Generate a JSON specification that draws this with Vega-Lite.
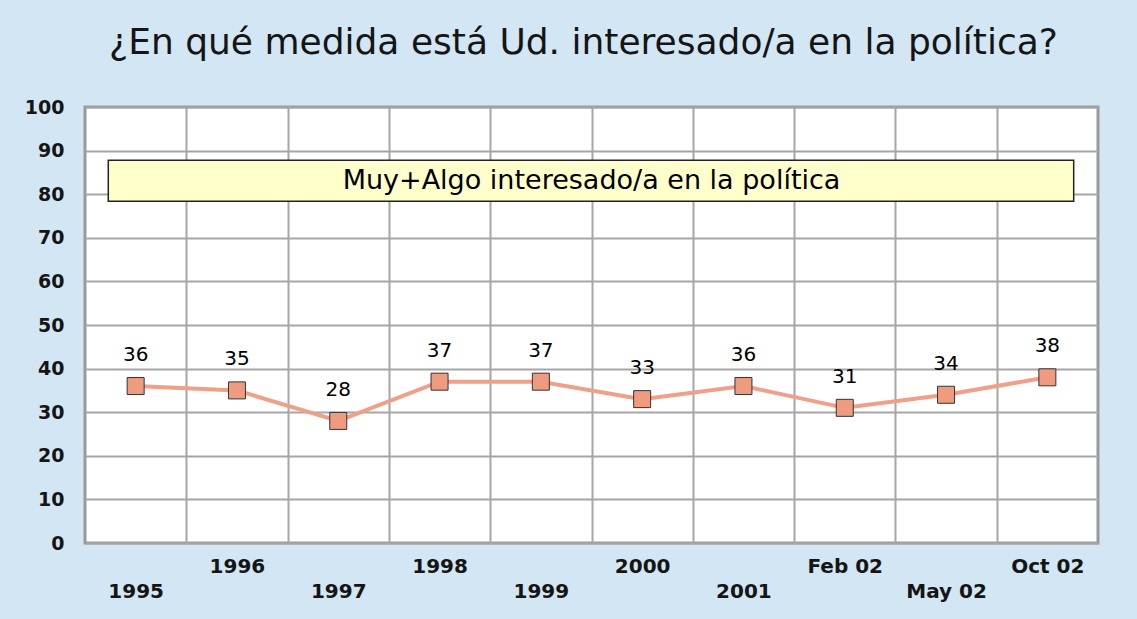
{
  "$schema": "https://vega.github.io/schema/vega-lite/v6.json",
  "width": 1013,
  "height": 436,
  "autosize": {"type": "none"},
  "padding": {"left": 85, "top": 107, "right": 39, "bottom": 76},
  "background": "#d2e6f4",
  "title": {
    "text": "¿En qué medida está Ud. interesado/a en la política?",
    "font": "DejaVu Sans",
    "fontSize": 36,
    "fontWeight": "normal",
    "color": "#151515",
    "anchor": "middle",
    "baseline": "alphabetic",
    "dx": -8,
    "offset": 8
  },
  "config": {
    "view": {"fill": "white", "stroke": "#999999", "strokeWidth": 3},
    "axis": {"labelFont": "DejaVu Sans", "labelColor": "#151515"}
  },
  "datasets": {
    "series": [
      {"i": 0, "periodo": "1995", "valor": 36},
      {"i": 1, "periodo": "1996", "valor": 35},
      {"i": 2, "periodo": "1997", "valor": 28},
      {"i": 3, "periodo": "1998", "valor": 37},
      {"i": 4, "periodo": "1999", "valor": 37},
      {"i": 5, "periodo": "2000", "valor": 33},
      {"i": 6, "periodo": "2001", "valor": 36},
      {"i": 7, "periodo": "Feb 02", "valor": 31},
      {"i": 8, "periodo": "May 02", "valor": 34},
      {"i": 9, "periodo": "Oct 02", "valor": 38}
    ],
    "caja": [
      {"x1": -0.27, "x2": 9.26, "y1": 78.4, "y2": 87.8, "xc": 4.5, "yc": 83.1, "texto": "Muy+Algo interesado/a en la política"}
    ]
  },
  "resolve": {"axis": {"x": "independent", "y": "independent"}},
  "layer": [
    {
      "data": {"name": "series"},
      "mark": {"type": "line", "color": "#EFA088", "strokeWidth": 4},
      "encoding": {
        "x": {
          "field": "i", "type": "quantitative",
          "scale": {"domain": [-0.5, 9.5], "nice": false, "zero": false},
          "axis": {
            "orient": "bottom",
            "values": [0.5, 1.5, 2.5, 3.5, 4.5, 5.5, 6.5, 7.5, 8.5],
            "grid": true, "gridColor": "#a6a6a6", "gridWidth": 2,
            "labels": false, "ticks": false, "domain": false, "title": null
          }
        },
        "y": {
          "field": "valor", "type": "quantitative",
          "scale": {"domain": [0, 100], "nice": false},
          "axis": {
            "orient": "left",
            "values": [0, 10, 20, 30, 40, 50, 60, 70, 80, 90, 100],
            "grid": true, "gridColor": "#a6a6a6", "gridWidth": 2,
            "ticks": false, "domain": false, "title": null,
            "labelFontSize": 19, "labelFontWeight": "bold", "labelPadding": 21,
            "labelFlush": false, "labelOverlap": false
          }
        }
      }
    },
    {
      "data": {"name": "caja"},
      "mark": {"type": "rect", "fill": "#ffffcc", "stroke": "#222222", "strokeWidth": 1.5},
      "encoding": {
        "x": {"field": "x1", "type": "quantitative", "axis": null},
        "x2": {"field": "x2"},
        "y": {"field": "y1", "type": "quantitative", "axis": null},
        "y2": {"field": "y2"}
      }
    },
    {
      "data": {"name": "caja"},
      "mark": {"type": "text", "font": "DejaVu Sans", "fontSize": 27, "color": "#000000", "baseline": "middle", "align": "center"},
      "encoding": {
        "x": {"field": "xc", "type": "quantitative", "axis": null},
        "y": {"field": "yc", "type": "quantitative", "axis": null},
        "text": {"field": "texto"}
      }
    },
    {
      "data": {"name": "series"},
      "mark": {"type": "square", "size": 289, "filled": true, "fill": "#EE9B7F", "stroke": "#333333", "strokeWidth": 1, "opacity": 1},
      "encoding": {
        "x": {
          "field": "i", "type": "quantitative",
          "axis": {
            "orient": "bottom",
            "values": [0, 1, 2, 3, 4, 5, 6, 7, 8, 9],
            "labelExpr": "['1995','1996','1997','1998','1999','2000','2001','Feb 02','May 02','Oct 02'][datum.value]",
            "grid": false, "ticks": false, "domain": false, "title": null,
            "labelFontSize": 20, "labelFontWeight": "bold",
            "labelPadding": {"condition": {"test": "datum.value % 2 == 0", "value": 38}, "value": 13},
            "labelFlush": false, "labelOverlap": false
          }
        },
        "y": {"field": "valor", "type": "quantitative", "axis": null}
      }
    },
    {
      "data": {"name": "series"},
      "mark": {"type": "text", "font": "DejaVu Sans", "fontSize": 20, "color": "#000000", "dy": -31, "baseline": "middle"},
      "encoding": {
        "x": {"field": "i", "type": "quantitative", "axis": null},
        "y": {"field": "valor", "type": "quantitative", "axis": null},
        "text": {"field": "valor"}
      }
    }
  ]
}
